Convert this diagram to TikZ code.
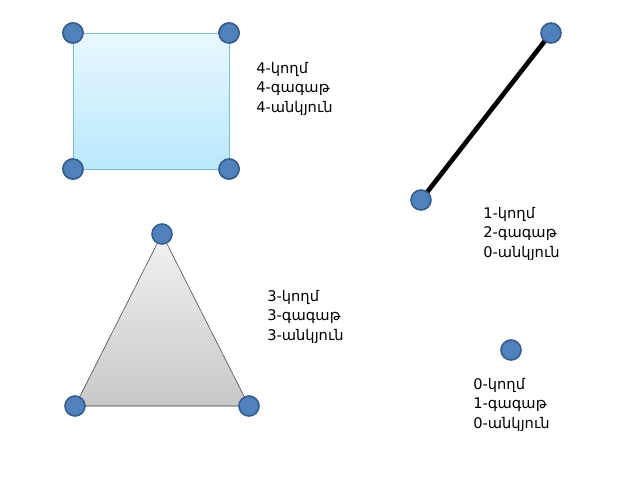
\documentclass[tikz,border=0pt]{standalone}
\usepackage{fontspec}
\setmainfont{DejaVu Sans}
\begin{document}
\begin{tikzpicture}[x=0.75pt,y=-0.75pt,
  vtx/.style={circle,fill={rgb,255:red,79;green,129;blue,189},draw={rgb,255:red,56;green,93;blue,138},line width=1.2pt,minimum size=15pt,inner sep=0pt},
  lbl/.style={anchor=north west,align=left,font=\fontsize{11}{14.5}\selectfont,inner sep=0pt}]
\useasboundingbox (0,0) rectangle (640,480);
\node[vtx] (a1) at (73,33) {};
\node[vtx] (a2) at (229,33) {};
\node[vtx] (a3) at (229,169) {};
\node[vtx] (a4) at (73,169) {};
\begin{scope}[on background layer/.style={}]
\end{scope}
\shade[top color={rgb,255:red,232;green,248;blue,255},bottom color={rgb,255:red,186;green,232;blue,251},draw={rgb,255:red,120;green,190;blue,215}] (a1.center) -- (a2.center) -- (a3.center) -- (a4.center) -- cycle;
\node[vtx] at (a1) {};\node[vtx] at (a2) {};\node[vtx] at (a3) {};\node[vtx] at (a4) {};
\node[lbl] (t1) at (256,62) {4-կողմ\\4-գագաթ\\4-անկյուն};
\coordinate (b1) at (551,33);
\coordinate (b2) at (421,200);
\draw[line width=3.5pt] (b1) -- (b2);
\node[vtx] at (b1) {};\node[vtx] at (b2) {};
\node[lbl] (t2) at (483,207) {1-կողմ\\2-գագաթ\\0-անկյուն};
\coordinate (c1) at (162,234);
\coordinate (c2) at (249,406);
\coordinate (c3) at (75,406);
\shade[top color={rgb,255:red,242;green,242;blue,242},bottom color={rgb,255:red,200;green,200;blue,200},draw={rgb,255:red,60;green,60;blue,60}] (c1) -- (c2) -- (c3) -- cycle;
\node[vtx] at (c1) {};\node[vtx] at (c2) {};\node[vtx] at (c3) {};
\node[lbl] (t3) at (267,290) {3-կողմ\\3-գագաթ\\3-անկյուն};
\node[vtx] (d) at (511,350) {};
\node[lbl] (t4) at (473,378) {0-կողմ\\1-գագաթ\\0-անկյուն};
\end{tikzpicture}
\end{document}
